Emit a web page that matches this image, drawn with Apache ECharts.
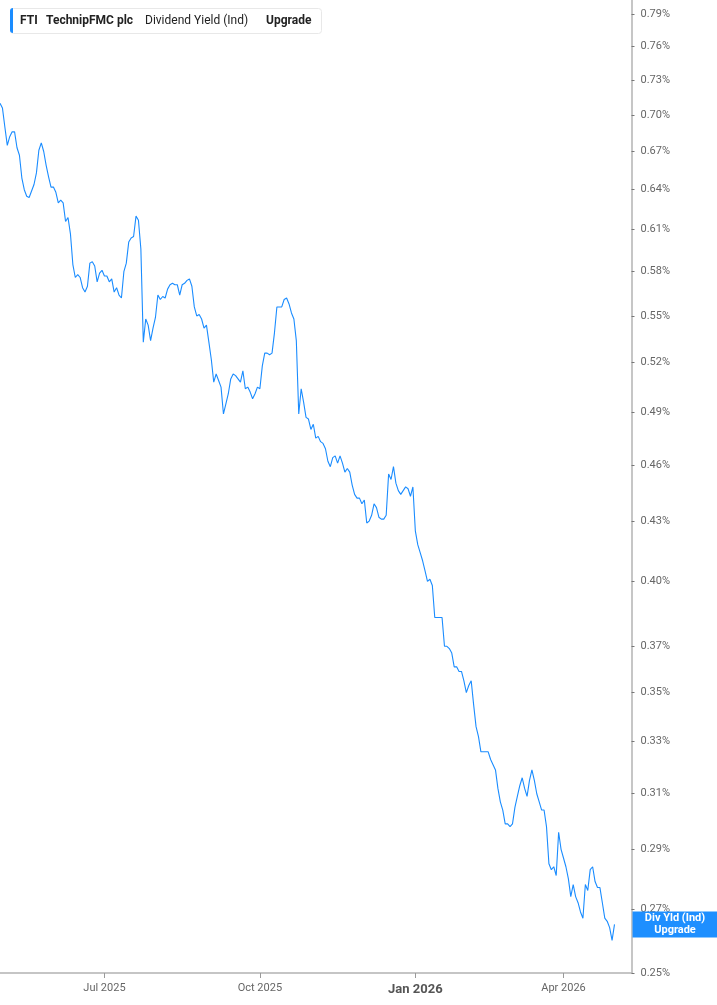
<!DOCTYPE html>
<html><head><meta charset="utf-8">
<script src="https://cdn.jsdelivr.net/npm/echarts@6/dist/echarts.min.js"></script>
<style>html,body{margin:0;padding:0;background:#fff}#c{width:717px;height:1005px}</style>
</head><body><div id="c"></div>
<script>
const startDate = '2025-04-29', endDate = '2026-05-12';
const holidays = ['2025-05-26','2025-06-19','2025-07-04','2025-09-01','2025-11-27','2025-12-25','2026-01-01','2026-01-19','2026-02-16','2026-04-03'];
const tickDates = ['2025-07-01','2025-10-01','2026-01-02','2026-04-01'];
const tickLabels = ['Jul 2025','Oct 2025','Jan 2026','Apr 2026'];
const yTicks = [0.25,0.27,0.29,0.31,0.33,0.35,0.37,0.40,0.43,0.46,0.49,0.52,0.55,0.58,0.61,0.64,0.67,0.70,0.73,0.76,0.79];
const divYield = [
0.710,0.706,0.690,0.675,0.682,0.686,0.686,0.673,0.667,0.649,
0.640,0.635,0.634,0.639,0.644,0.653,0.671,0.677,0.670,0.659,
0.650,0.642,0.642,0.638,0.630,0.632,0.630,0.616,0.619,0.607,
0.585,0.576,0.578,0.576,0.569,0.566,0.570,0.586,0.587,0.584,
0.573,0.579,0.581,0.577,0.577,0.573,0.575,0.566,0.569,0.564,
0.562,0.580,0.586,0.601,0.604,0.605,0.620,0.617,0.596,0.533,
0.548,0.544,0.534,0.542,0.549,0.564,0.561,0.563,0.562,0.568,
0.571,0.572,0.571,0.571,0.564,0.571,0.572,0.574,0.575,0.570,
0.556,0.550,0.551,0.548,0.542,0.544,0.533,0.522,0.508,0.513,
0.509,0.505,0.489,0.495,0.501,0.510,0.513,0.512,0.510,0.508,
0.515,0.504,0.505,0.502,0.498,0.501,0.505,0.504,0.518,0.526,
0.526,0.525,0.526,0.539,0.556,0.556,0.556,0.561,0.562,0.558,
0.552,0.548,0.534,0.489,0.504,0.496,0.487,0.486,0.480,0.483,
0.475,0.476,0.473,0.472,0.469,0.462,0.459,0.464,0.465,0.461,
0.465,0.461,0.456,0.458,0.456,0.449,0.444,0.442,0.442,0.439,
0.441,0.429,0.430,0.433,0.439,0.437,0.432,0.431,0.431,0.433,
0.455,0.452,0.459,0.450,0.446,0.444,0.446,0.448,0.447,0.443,
0.448,0.425,0.418,0.414,0.410,0.405,0.400,0.401,0.398,0.383,
0.383,0.383,0.383,0.370,0.370,0.369,0.367,0.361,0.361,0.359,
0.359,0.355,0.350,0.353,0.355,0.345,0.336,0.332,0.326,0.326,
0.326,0.326,0.323,0.321,0.319,0.312,0.307,0.304,0.299,0.299,
0.298,0.299,0.305,0.309,0.313,0.316,0.312,0.309,0.315,0.319,
0.315,0.310,0.307,0.304,0.304,0.298,0.285,0.283,0.284,0.281,
0.296,0.290,0.287,0.284,0.280,0.274,0.278,0.274,0.272,0.269,
0.267,0.278,0.276,0.283,0.284,0.279,0.277,0.277,0.272,0.267,
0.266,0.264,0.260,0.265
];

function tradingDays(a, b) {
  const out = [];
  const d = new Date(a + 'T00:00:00Z');
  const e = new Date(b + 'T00:00:00Z');
  while (d <= e) {
    const w = d.getUTCDay();
    const s = d.toISOString().slice(0, 10);
    if (w !== 0 && w !== 6 && !holidays.includes(s)) out.push(s);
    d.setUTCDate(d.getUTCDate() + 1);
  }
  return out;
}
const categories = tradingDays(startDate, endDate);
const lastIdx = divYield.length - 1;
const lastVal = divYield[lastIdx];
const blue = '#1a8cff';

const chart = echarts.init(document.getElementById('c'), null, {renderer: 'canvas'});
chart.setOption({
  animation: false,
  backgroundColor: '#fff',
  grid: {left: -1, right: 85.5, top: 0, bottom: 32, containLabel: false},
  xAxis: {
    type: 'category', data: categories, boundaryGap: false,
    axisLine: {show: true, lineStyle: {color: '#b3b3b3', width: 1.5}},
    axisTick: {show: true, interval: (i, v) => tickDates.includes(v), length: 5, lineStyle: {color: '#999'}},
    axisLabel: {
      interval: (i, v) => tickDates.includes(v),
      formatter: v => { const k = tickDates.indexOf(v); return k === 2 ? '{b|' + tickLabels[k] + '}' : tickLabels[k]; },
      color: '#666', fontSize: 11, margin: 10, fontFamily: 'Roboto',
      rich: {b: {fontWeight: 'bold', fontSize: 13, color: '#555', fontFamily: 'Roboto'}}
    },
    splitLine: {show: false}
  },
  yAxis: {
    type: 'log', position: 'right', min: 0.25, max: 0.8036,
    axisLine: {show: true, lineStyle: {color: '#b3b3b3', width: 1.5}},
    axisTick: {show: true, customValues: yTicks, length: 3, lineStyle: {color: '#777'}},
    axisLabel: {customValues: yTicks, formatter: v => v.toFixed(2) + '%', color: '#666', fontSize: 11, margin: 9, fontFamily: 'Roboto'},
    splitLine: {show: false}
  },
  series: [{
    type: 'line', data: divYield, showSymbol: false, symbol: 'none',
    lineStyle: {color: blue, width: 1.1}, itemStyle: {color: blue},
    markLine: {
      silent: true, symbol: ['none', 'none'], animation: false,
      lineStyle: {color: 'rgba(0,0,0,0)', width: 0, type: 'solid'},
      label: {
        show: true, position: 'end', distance: 1,
        formatter: '{a|Div Yld (Ind)}\n{a|Upgrade}',
        backgroundColor: '#1e8fff', padding: [1, 10, 1, 10],
        rich: {a: {color: '#fff', fontWeight: 'bold', fontSize: 11, fontFamily: 'Roboto', lineHeight: 12, width: 65, align: 'center'}}
      },
      data: [[{xAxis: lastIdx, yAxis: lastVal}, {xAxis: categories.length - 1, yAxis: lastVal}]]
    }
  }],
  graphic: [
    {type: 'rect', left: 10, top: 8, shape: {width: 311, height: 25, r: 3}, style: {fill: '#fff', stroke: '#e8e8e8', lineWidth: 1}},
    {type: 'rect', left: 10, top: 8, shape: {width: 3, height: 25, r: [3, 0, 0, 3]}, style: {fill: blue}},
    {type: 'text', left: 20, top: 15, style: {text: 'FTI', font: 'bold 12px Roboto', fill: '#222'}},
    {type: 'text', left: 46, top: 15, style: {text: 'TechnipFMC plc', font: 'bold 12px Roboto', fill: '#222'}},
    {type: 'text', left: 145, top: 15, style: {text: 'Dividend Yield (Ind)', font: '12px Roboto', fill: '#222'}},
    {type: 'text', left: 266, top: 15, style: {text: 'Upgrade', font: 'bold 12px Roboto', fill: '#222'}}
  ]
});
</script>
</body></html>
